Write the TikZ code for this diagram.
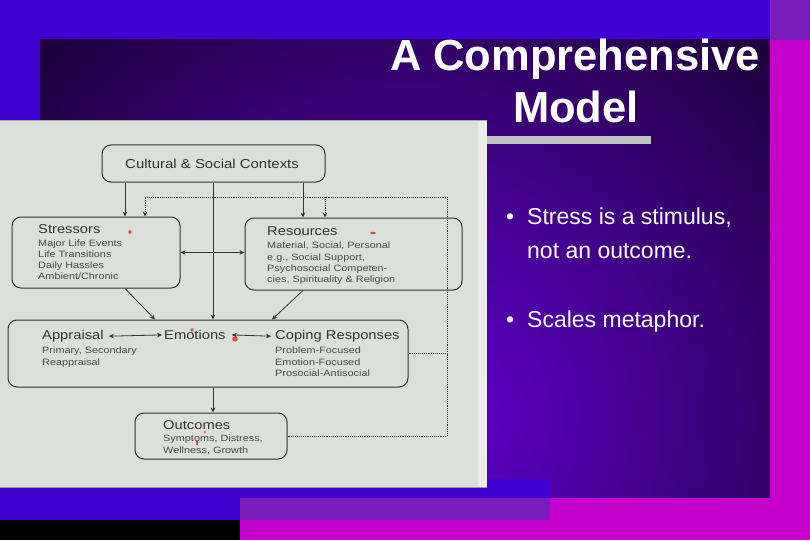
\documentclass[tikz,border=0pt]{standalone}
\usepackage{fontspec}
\setmainfont{Liberation Sans}
\usetikzlibrary{arrows.meta,calc}
\definecolor{bgblue}{HTML}{4000D2}
\definecolor{bgmag}{HTML}{C600CC}
\definecolor{bglav}{HTML}{7A1CBC}
\definecolor{panelin}{HTML}{5800BC}
\definecolor{panelout}{HTML}{1C0038}
\definecolor{paper}{HTML}{DCE0DA}
\definecolor{paperedge}{HTML}{ECEDE4}
\definecolor{ink}{HTML}{333333}
\definecolor{inkred}{HTML}{E0301E}
\definecolor{barg}{HTML}{C0C0C0}
\pgfdeclareradialshading{panelshade}{\pgfpoint{0bp}{0bp}}{color(0bp)=(panelin); color(4bp)=(panelin); color(25bp)=(panelout); color(50bp)=(panelout)}
\begin{document}
\begin{tikzpicture}[x=1pt,y=-1pt,
  box/.style={draw=ink, line width=1pt, rounded corners=9pt, inner sep=0pt},
  ttl/.style={anchor=base west, inner sep=0pt, text=ink, font=\fontsize{12.8}{14}\selectfont, xscale=1.15},
  sub/.style={anchor=base west, inner sep=0pt, text=ink!90, font=\fontsize{9.2}{11}\selectfont, xscale=1.18},
  tip/.tip={Stealth[length=5pt,width=4.6pt]},
  arr/.style={draw=ink, line width=0.8pt, -tip},
  darr/.style={draw=ink, line width=0.8pt, tip-tip},
  dotline/.style={draw=ink, line width=1pt, dash pattern=on 1pt off 0.9pt},
  heading/.style={anchor=base, inner sep=0pt, text=white, font=\bfseries\fontsize{43.5}{52}\selectfont},
  bul/.style={anchor=base west, inner sep=0pt, text=white, font=\fontsize{23}{28}\selectfont},
  redmark/.style={fill=inkred, opacity=0.85}]
\useasboundingbox (0,0) rectangle (810,540);
% background
\fill[bgblue] (0,0) rectangle (810,540);
\fill[panelout] (40,40) rectangle (770,498);
\begin{scope}
  \clip (40,40) rectangle (770,498);
  \shade[shading=panelshade] (410,415) circle (530pt);
\end{scope}
\fill[bgblue] (0,479) rectangle (550,520);
\fill[bgmag] (240,498) rectangle (810,540);
\fill[bgmag] (770,40) rectangle (810,540);
\fill[bglav] (240,498) rectangle (550,520);
\fill[bglav] (770,0) rectangle (810,40);
\fill[black] (0,520) rectangle (240,540);
% title
\node[heading] (t1) at (575,71) {A Comprehensive};
\node[heading] (t2) at (576,123) {Model};
\fill[barg] (487,136) rectangle (651,144);
% bullets
\node[bul] (d1) at (506,224) {•};
\node[bul] (b1) at (527,224) {Stress is a stimulus,};
\node[bul] (b1b) at (527,258) {not an outcome.};
\node[bul] (d2) at (506,327) {•};
\node[bul] (b2) at (527,327) {Scales metaphor.};
% paper
\fill[paper] (0,120) rectangle (487,488);
\fill[paperedge] (478,120) rectangle (487,488);
\draw[gray!70, line width=0.8pt] (0,120.5) -- (487,120.5);
\draw[gray!80, line width=0.8pt] (0,487.5) -- (487,487.5);
% boxes
\node[box, minimum width=223pt, minimum height=37pt] (cult) at (213.5,163.5) {};
\node[box, minimum width=168pt, minimum height=71pt] (stress) at (96,252.5) {};
\node[box, minimum width=217pt, minimum height=72pt] (res) at (353.5,254) {};
\node[box, minimum width=400pt, minimum height=67pt] (big) at (208,353.5) {};
\node[box, minimum width=152pt, minimum height=46pt] (out) at (211,436) {};
% texts
\node[ttl, font=\fontsize{13}{15}\selectfont] (cultt) at (125,168) {Cultural \& Social Contexts};
\node[ttl] (st) at (38,233) {Stressors};
\node[sub] (s1) at (38,246.5) {Major Life Events};
\node[sub] (s2) at (38,257.5) {Life Transitions};
\node[sub] (s3) at (38,268.5) {Daily Hassles};
\node[sub] (s4) at (38,279.5) {Ambient/Chronic};
\node[ttl] (rt) at (267,235) {Resources};
\node[sub] (r1) at (267,248.5) {Material, Social, Personal};
\node[sub] (r2) at (267,260) {e.g., Social Support,};
\node[sub] (r3) at (267,271.5) {Psychosocial Competen-};
\node[sub] (r4) at (267,282.5) {cies, Spirituality \& Religion};
\node[ttl] (appr) at (42,339.5) {Appraisal};
\node[sub] (a1) at (42,353.5) {Primary, Secondary};
\node[sub] (a2) at (42,365) {Reappraisal};
\node[ttl] (emo) at (164,339.5) {Emotions};
\node[ttl] (cop) at (275,339.5) {Coping Responses};
\node[sub] (c1) at (275,353.5) {Problem-Focused};
\node[sub] (c2) at (275,365) {Emotion-Focused};
\node[sub] (c3) at (275,376.5) {Prosocial-Antisocial};
\node[ttl] (ot) at (163,429.5) {Outcomes};
\node[sub] (o1) at (163,441) {Symptoms, Distress,};
\node[sub] (o2) at (163,453) {Wellness, Growth};
% helper coordinates
\coordinate (xa) at (125,0);
\coordinate (xb) at (213,0);
\coordinate (xc) at (303,0);
\coordinate (xd) at (145,0);
\coordinate (xe) at (325,0);
\coordinate (xf) at (155,0);
\coordinate (xg) at (272,0);
\coordinate (xr) at (447,0);
\coordinate (ytop) at (0,197);
% connectors
\draw[arr] (cult.south -| xa) -- (stress.north -| xa);
\draw[arr] (cult.south -| xb) -- (big.north -| xb);
\draw[arr] (cult.south -| xc) -- (res.north -| xc);
\draw[darr] (stress.east) -- (stress.east -| res.west);
\draw[arr] (stress.south -| xa) -- (big.north -| xf);
\draw[arr] (res.south -| xc) -- (big.north -| xg);
\draw[darr] ([xshift=5pt]appr.east) -- ([xshift=-2pt]emo.west);
\draw[darr] ([xshift=6pt]emo.east) -- ([xshift=-4pt]cop.west);
\draw[arr, line width=0.6pt] (big.south -| xb) -- (out.north -| xb);
\draw[dotline, -tip] (big.east) -- (big.east -| xr) -- (xr |- ytop) -- (xd |- ytop) -- (stress.north -| xd);
\draw[dotline, -tip] (xe |- ytop) -- (res.north -| xe);
\draw[dotline] (out.east) -- (out.east -| xr) -- (big.east -| xr);
% red pen marks
\fill[redmark] (130,232) ellipse (1.6pt and 2pt);
\fill[redmark] (373,233) ellipse (3pt and 1.2pt);
\fill[redmark] (192,330) ellipse (1.8pt and 1.8pt);
\fill[redmark] (235,339) ellipse (2.8pt and 2.6pt);
\fill[redmark] (197,443) ellipse (1.2pt and 2.4pt);
\fill[redmark] (205,432) ellipse (0.8pt and 1.6pt);
\end{tikzpicture}
\end{document}
